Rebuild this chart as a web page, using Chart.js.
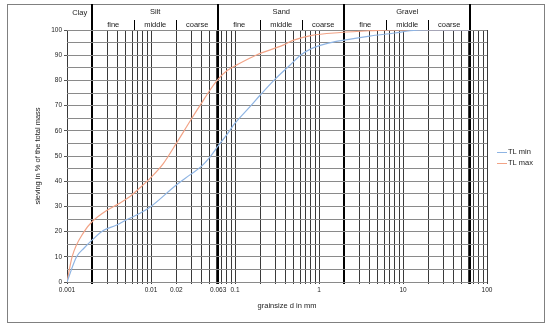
<!DOCTYPE html>
<html>
<head>
<meta charset="utf-8">
<script src="https://cdn.jsdelivr.net/npm/chart.js@4.4.0/dist/chart.umd.min.js"></script>
<style>
  html, body { margin: 0; padding: 0; background: #fff; }
</style>
</head>
<body>
<canvas id="chart" width="550" height="327"></canvas>
<script>
// grain size (mm) / passing (%)
const grainMin = [0.001, 0.0013, 0.0016, 0.002, 0.0027, 0.0039, 0.005, 0.0074, 0.01, 0.02, 0.03, 0.04, 0.05, 0.063, 0.08, 0.1, 0.15, 0.2, 0.3, 0.45, 0.6, 0.8, 1.2, 2, 4, 8, 12, 20, 63];
const passMin = [0, 10, 13.5, 16.7, 20.4, 22.6, 24.5, 27.3, 30, 38.5, 42.8, 46, 49.5, 54, 58.5, 63, 69.5, 74.2, 80.5, 86, 90, 92.5, 94.5, 96, 97.6, 98.8, 99.7, 100, 100];

const grainMax = [0.001, 0.00115, 0.0016, 0.002, 0.003, 0.004, 0.0054, 0.0074, 0.01, 0.014, 0.02, 0.03, 0.04, 0.05, 0.063, 0.08, 0.11, 0.18, 0.375, 0.5, 0.8, 1.8, 4, 7, 63];
const passMax = [0, 10, 20, 24, 28.5, 30.8, 33.5, 37.4, 41.5, 47, 55, 64.5, 71, 76, 80.5, 83.8, 86.5, 90.1, 94, 96, 97.8, 99, 99.7, 100, 100];

const xTickLabels = ['0.001', '0.01', '0.02', '0.063', '0.1', '1', '10', '100'];

// soil classes along the top
const zoneNames = ['Clay', 'Silt', 'Sand', 'Gravel'];
const zoneBounds = [0.001, 0.002, 0.063, 2, 63];
const subNames = ['fine', 'middle', 'coarse'];
const subBounds = [
  null,
  [0.002, 0.0063, 0.02, 0.063],
  [0.063, 0.2, 0.63, 2],
  [2, 6.3, 20, 63],
];

const FONT = '"Liberation Sans", Arial, sans-serif';
const TEXT = '#222';

function near(a, b) {
  return Math.abs(a - b) / b < 1e-6;
}
function isZoneBound(v) {
  return zoneBounds.slice(1).some((b) => near(v, b));
}

// x grid: 1..9 per decade plus the class limits
let xGrid = [];
for (let k = -3; k <= 1; k++) {
  for (let m = 1; m <= 9; m++) xGrid.push(Number(m + 'e' + k));
}
xGrid.push(100, 0.063, 63);
xGrid.sort((a, b) => a - b);

const overlay = {
  id: 'overlay',
  afterDraw(chart) {
    const ctx = chart.ctx;
    const xs = chart.scales.x;
    const area = chart.chartArea;
    ctx.save();

    // outer frame
    ctx.strokeStyle = '#808080';
    ctx.lineWidth = 1;
    ctx.strokeRect(7.5, 4.5, 537, 318);

    // class borders in header
    ctx.strokeStyle = '#000';
    ctx.lineWidth = 2;
    zoneBounds.slice(1).forEach((b) => {
      const px = Math.round(xs.getPixelForValue(b));
      ctx.beginPath();
      ctx.moveTo(px, 4);
      ctx.lineTo(px, area.top);
      ctx.stroke();
    });
    ctx.lineWidth = 1;
    subBounds.forEach((sb) => {
      if (!sb) return;
      [sb[1], sb[2]].forEach((b) => {
        const px = Math.round(xs.getPixelForValue(b)) + 0.5;
        ctx.beginPath();
        ctx.moveTo(px, 20);
        ctx.lineTo(px, area.top);
        ctx.stroke();
      });
    });

    ctx.fillStyle = TEXT;
    ctx.font = '7.5px ' + FONT;
    ctx.textAlign = 'center';
    ctx.textBaseline = 'middle';
    zoneNames.forEach((name, i) => {
      const a = xs.getPixelForValue(zoneBounds[i]);
      const b = xs.getPixelForValue(zoneBounds[i + 1]);
      ctx.fillText(name, (a + b) / 2, i === 0 ? 13 : 11.5);
      const sb = subBounds[i];
      if (sb) {
        subNames.forEach((s, j) => {
          const c = xs.getPixelForValue(sb[j]);
          const d = xs.getPixelForValue(sb[j + 1]);
          ctx.fillText(s, (c + d) / 2, 24.5);
        });
      }
    });

    // x axis title
    ctx.fillText('grainsize d in mm', 287, 306);

    // legend
    ctx.textAlign = 'left';
    chart.data.datasets.forEach((ds, i) => {
      const y = 152 + i * 11;
      ctx.strokeStyle = ds.borderColor;
      ctx.lineWidth = 1;
      ctx.beginPath();
      ctx.moveTo(497, y + 0.5);
      ctx.lineTo(507, y + 0.5);
      ctx.stroke();
      ctx.fillText(ds.label, 508, y);
    });
    ctx.restore();
  },
};

new Chart(document.getElementById('chart'), {
  type: 'line',
  data: {
    datasets: [
      {
        label: 'TL min',
        data: grainMin.map((g, i) => ({ x: g, y: passMin[i] })),
        borderColor: '#8eb4e3',
        borderWidth: 1.2,
        pointRadius: 0,
        fill: false,
        cubicInterpolationMode: 'monotone',
      },
      {
        label: 'TL max',
        data: grainMax.map((g, i) => ({ x: g, y: passMax[i] })),
        borderColor: '#f2a386',
        borderWidth: 1.2,
        pointRadius: 0,
        fill: false,
        cubicInterpolationMode: 'monotone',
      },
    ],
  },
  options: {
    responsive: false,
    animation: false,
    devicePixelRatio: 1,
    layout: {
      padding: { left: 0, right: 63, top: 30, bottom: 0 },
    },
    plugins: {
      legend: { display: false },
      tooltip: { enabled: false },
    },
    scales: {
      x: {
        type: 'logarithmic',
        min: 0.001,
        max: 100,
        afterBuildTicks: (scale) => {
          scale.ticks = xGrid.map((v) => ({ value: v }));
        },
        afterFit: (scale) => {
          scale.height = 45;
        },
        border: { display: false },
        grid: {
          color: (c) => (c.tick && isZoneBound(c.tick.value) ? '#000' : '#3a3a3a'),
          lineWidth: (c) => (c.tick && isZoneBound(c.tick.value) ? 2 : 1),
          tickLength: 2,
        },
        ticks: {
          autoSkip: false,
          maxRotation: 0,
          minRotation: 0,
          padding: 2,
          color: TEXT,
          font: { family: FONT, size: 6.5 },
          callback: (value) => {
            const lab = xTickLabels.find((l) => near(value, Number(l)));
            return lab === undefined ? '' : lab;
          },
        },
      },
      y: {
        min: 0,
        max: 100,
        afterFit: (scale) => {
          scale.width = 67;
        },
        border: { display: false },
        grid: {
          color: '#8a8a8a',
          lineWidth: 1,
          tickLength: 3,
          tickColor: (c) => (c.tick && c.tick.value % 10 === 0 ? '#555' : 'rgba(0,0,0,0)'),
        },
        ticks: {
          stepSize: 5,
          padding: 2,
          color: TEXT,
          font: { family: FONT, size: 6.5 },
          callback: (value) => (value % 10 === 0 ? value : ''),
        },
        title: {
          display: true,
          text: 'sieving in % of the total mass',
          color: TEXT,
          font: { family: FONT, size: 7.5 },
          padding: { top: 33, bottom: 0 },
        },
      },
    },
  },
  plugins: [overlay],
});
</script>
</body>
</html>
